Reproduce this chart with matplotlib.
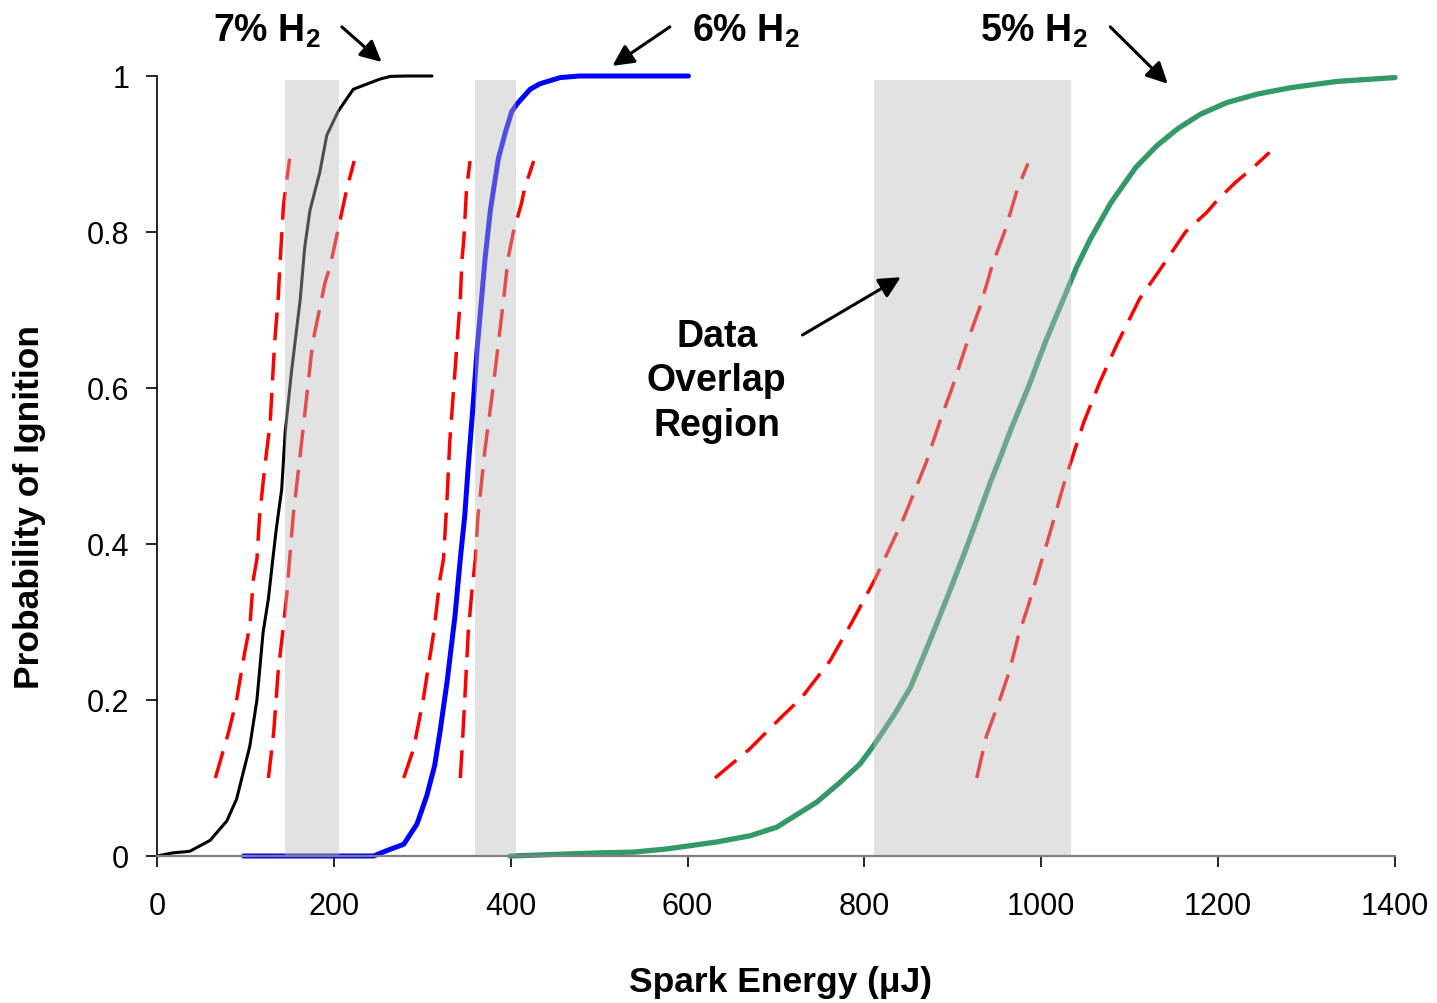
import matplotlib
matplotlib.use("Agg")
import matplotlib.pyplot as plt
from matplotlib.patches import FancyArrowPatch
from matplotlib import font_manager

plt.rcParams['font.family'] = ['Liberation Sans', 'DejaVu Sans']
plt.rcParams['lines.scale_dashes'] = False
plt.rcParams['mathtext.fontset'] = 'custom'
plt.rcParams['mathtext.rm'] = 'Liberation Sans'
plt.rcParams['mathtext.bf'] = 'Liberation Sans:bold'

# ---- data ----
h7_x = [0, 18, 37, 60, 79, 90, 105, 113, 120, 126, 131, 135, 141, 145, 152, 162, 167, 173, 184, 192, 205, 222, 252, 264, 282, 311]
h7_y = [0, 0.004, 0.006, 0.02, 0.045, 0.073, 0.141, 0.2, 0.287, 0.33, 0.381, 0.42, 0.47, 0.544, 0.62, 0.714, 0.78, 0.828, 0.876, 0.924, 0.955, 0.983, 0.996, 0.9995, 1.0, 1.0]

h6_x = [98, 245, 260, 279, 294, 305, 314, 320, 328, 337, 343, 348, 352, 358, 362, 367, 371, 377, 386, 394, 401, 407, 422, 433, 456, 478, 601]
h6_y = [0, 0, 0.007, 0.015, 0.041, 0.077, 0.116, 0.159, 0.223, 0.308, 0.381, 0.436, 0.5, 0.586, 0.65, 0.714, 0.766, 0.828, 0.894, 0.928, 0.954, 0.964, 0.983, 0.99, 0.998, 1.0, 1.0]

h5_x = [399, 500, 539, 576, 633, 671, 701, 746, 772, 795, 810, 833, 852, 870, 884, 900, 916, 930, 942, 954, 966, 985, 1005, 1025, 1040, 1055, 1079, 1107, 1131, 1155, 1180, 1210, 1245, 1282, 1334, 1400]
h5_y = [0, 0.004, 0.005, 0.009, 0.018, 0.026, 0.037, 0.069, 0.094, 0.118, 0.141, 0.18, 0.216, 0.265, 0.304, 0.35, 0.397, 0.44, 0.478, 0.512, 0.548, 0.6, 0.66, 0.714, 0.755, 0.79, 0.838, 0.883, 0.911, 0.933, 0.951, 0.966, 0.977, 0.985, 0.993, 0.998]

h7_lo_x = [66, 81, 90, 99, 105, 109, 113, 116, 122, 128, 133, 137, 139, 143, 150]
h7_lo_y = [0.1, 0.159, 0.2, 0.26, 0.295, 0.355, 0.381, 0.436, 0.5, 0.556, 0.658, 0.714, 0.757, 0.834, 0.894]
h7_hi_x = [126, 132, 137, 143, 147, 150, 154, 164, 176, 190, 196, 211, 215, 223]
h7_hi_y = [0.1, 0.159, 0.236, 0.295, 0.338, 0.381, 0.436, 0.535, 0.658, 0.735, 0.757, 0.836, 0.857, 0.891]

h6_lo_x = [279, 290, 301, 313, 320, 324, 328, 331, 343, 345, 347, 350, 354]
h6_lo_y = [0.1, 0.137, 0.2, 0.287, 0.355, 0.381, 0.458, 0.53, 0.714, 0.766, 0.791, 0.855, 0.891]
h6_hi_x = [343, 345, 348, 352, 356, 360, 363, 371, 380, 392, 397, 403, 412, 416, 426]
h6_hi_y = [0.1, 0.137, 0.2, 0.287, 0.338, 0.381, 0.436, 0.522, 0.6, 0.714, 0.766, 0.8, 0.836, 0.857, 0.891]

h5_lo_x = [631, 670, 706, 729, 748, 761, 786, 812, 844, 870, 885, 900, 916, 931, 945, 959, 973, 985]
h5_lo_y = [0.1, 0.137, 0.178, 0.203, 0.231, 0.25, 0.3, 0.355, 0.432, 0.505, 0.556, 0.603, 0.658, 0.705, 0.759, 0.802, 0.855, 0.888]
h5_hi_x = [927, 938, 953, 964, 974, 985, 1010, 1025, 1032, 1048, 1066, 1086, 1111, 1135, 1163, 1187, 1200, 1220, 1238, 1258]
h5_hi_y = [0.1, 0.154, 0.2, 0.237, 0.282, 0.32, 0.415, 0.475, 0.5, 0.556, 0.607, 0.657, 0.714, 0.753, 0.8, 0.825, 0.842, 0.864, 0.881, 0.902]

overlap_x0 = [145, 360, 811]
overlap_x1 = [206, 406, 1034]

x_ticks = [0, 200, 400, 600, 800, 1000, 1200, 1400]
y_ticks = [0, 0.2, 0.4, 0.6, 0.8, 1.0]
y_tick_labels = ['0', '0.2', '0.4', '0.6', '0.8', '1']

# tick label font: narrow variant if present
names = {f.name for f in font_manager.fontManager.ttflist}
if 'Liberation Sans Narrow' in names:
    tick_font, tick_size = 'Liberation Sans Narrow', 25
else:
    tick_font, tick_size = 'Liberation Sans', 22

# ---- figure ----
fig = plt.figure(figsize=(14.37, 10.04), dpi=100)
ax = fig.add_axes([157 / 1437, 147 / 1004, 1238 / 1437, 780 / 1004])
ax.set_xlim(0, 1400)
ax.set_ylim(0, 1)

red_kw = dict(color='#ff0000', lw=2.5, dashes=(20, 9), zorder=2, clip_on=False)
for xs, ys in [(h7_lo_x, h7_lo_y), (h7_hi_x, h7_hi_y), (h6_lo_x, h6_lo_y),
               (h6_hi_x, h6_hi_y), (h5_lo_x, h5_lo_y), (h5_hi_x, h5_hi_y)]:
    ax.plot(xs, ys, **red_kw)

ax.plot(h7_x, h7_y, color='black', lw=2.2, zorder=3, clip_on=False, solid_capstyle='round')
ax.plot(h6_x, h6_y, color='#0000ff', lw=3.6, zorder=3, clip_on=False, solid_capstyle='round')
ax.plot(h5_x, h5_y, color='#339966', lw=3.8, zorder=3, clip_on=False, solid_capstyle='round')

for a, b in zip(overlap_x0, overlap_x1):
    ax.axvspan(a, b, ymin=0, ymax=0.995, facecolor='#bcbcbc', alpha=0.42,
               edgecolor='none', zorder=4)

# spines / ticks
ax.spines['top'].set_visible(False)
ax.spines['right'].set_visible(False)
ax.spines['left'].set_color('black')
ax.spines['left'].set_linewidth(1.2)
ax.spines['bottom'].set_color('#808080')
ax.spines['bottom'].set_linewidth(1.6)
ax.spines['bottom'].set_zorder(5)
ax.set_xticks(x_ticks)
ax.set_yticks(y_ticks)
ax.set_yticklabels(y_tick_labels)
ax.tick_params(axis='both', direction='out', length=8, width=1.2, color='black')
ax.tick_params(axis='x', pad=17)
ax.tick_params(axis='y', pad=12)
for lab in ax.get_xticklabels() + ax.get_yticklabels():
    lab.set_fontfamily(tick_font)
    lab.set_fontsize(tick_size)

ax.set_xlabel('Spark Energy (\u03bcJ)', fontsize=25.5, fontweight='bold')
ax.set_ylabel('Probability of Ignition', fontsize=25.5, fontweight='bold')
ax.xaxis.set_label_coords(0.504, -0.1295 - 0.02)
ax.xaxis.label.set_va('center')
ax.xaxis.set_label_coords(0.504, (857 - 983) / 780)
ax.yaxis.label.set_va('center')
ax.yaxis.set_label_coords((30 - 157) / 1238, (857 - 507) / 780)

# annotations
def note(text, tx, ty, ax0, ay0, ax1, ay1):
    ax.text(tx, ty, text, fontsize=27, fontweight='bold', ha='center', va='center',
            clip_on=False, zorder=6, linespacing=1.3)
    arr = FancyArrowPatch((ax0, ay0), (ax1, ay1), arrowstyle='-|>', mutation_scale=32,
                          lw=2.2, color='black', clip_on=False, zorder=6,
                          shrinkA=0, shrinkB=0)
    ax.add_patch(arr)

note('7% H$_\\mathbf{2}$', 124, 1.058, 209, 1.063, 254, 1.018)
note('6% H$_\\mathbf{2}$', 666, 1.058, 580, 1.063, 515, 1.013)
note('5% H$_\\mathbf{2}$', 992, 1.058, 1078, 1.063, 1143, 0.99)
note('Data\nOverlap\nRegion', 633, 0.61, 730, 0.668, 841, 0.742)

fig.savefig('out.png', dpi=100, facecolor='white')
